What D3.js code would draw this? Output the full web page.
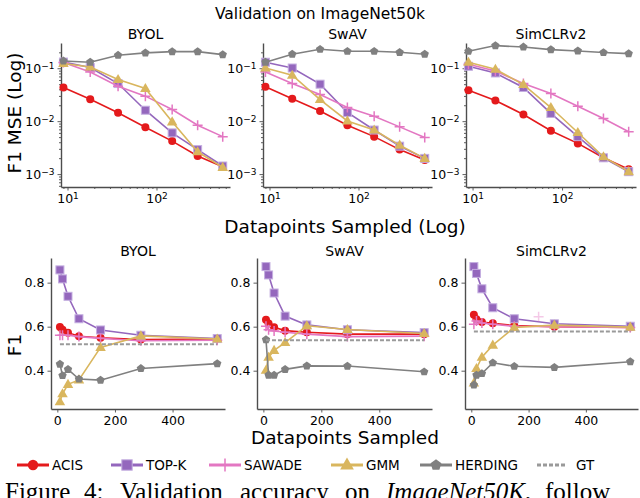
<!DOCTYPE html>
<html lang="en">
<head>
<meta charset="UTF-8">
<title>Validation on ImageNet50k</title>
<script src="https://d3js.org/d3.v7.min.js"></script>
<style>
  body { margin: 0; background: #fff; }
  svg text { font-family: "DejaVu Sans", sans-serif; fill: #000; }
</style>
</head>
<body>
<svg id="chart" width="640" height="498"></svg>
<script>
const models = ["BYOL", "SwAV", "SimCLRv2"];
const methods = ["ACIS", "TOP-K", "SAWADE", "GMM", "HERDING"];
const xSampled = [9, 18, 37, 75, 150, 290, 555];

// F1 MSE, rows: BYOL, SwAV, SimCLRv2
const mseACIS = [
  [0.0433, 0.026, 0.0144, 0.0077, 0.0042, 0.0022, 0.00137],
  [0.0445, 0.0264, 0.0155, 0.0084, 0.0051, 0.0029, 0.00184],
  [0.0385, 0.0246, 0.0134, 0.0066, 0.0038, 0.00203, 0.00123]
];
const mseTopK = [
  [0.131, 0.103, 0.0514, 0.0161, 0.006, 0.0029, 0.00142],
  [0.13, 0.101, 0.05, 0.0146, 0.0068, 0.00337, 0.00198],
  [0.109, 0.0815, 0.0433, 0.014, 0.0051, 0.00203, 0.00111]
];
const mseSawade = [
  [0.128, 0.085, 0.0457, 0.0297, 0.0166, 0.0084, 0.0051],
  [0.085, 0.0514, 0.0319, 0.0181, 0.0124, 0.0078, 0.0049],
  [0.119, 0.0889, 0.0514, 0.0333, 0.0192, 0.0112, 0.0063]
];
const mseGMM = [
  [0.123, 0.106, 0.0612, 0.0414, 0.0097, 0.00264, 0.00134],
  [0.101, 0.0738, 0.0256, 0.0101, 0.0068, 0.00352, 0.00198],
  [0.13, 0.0958, 0.0492, 0.0181, 0.0061, 0.00212, 0.00111]
];
const mseHerding = [
  [0.137, 0.13, 0.176, 0.195, 0.206, 0.206, 0.181],
  [0.13, 0.184, 0.228, 0.209, 0.209, 0.2, 0.184],
  [0.209, 0.268, 0.252, 0.225, 0.212, 0.198, 0.189]
];

// F1 estimates, rows: BYOL, SwAV, SimCLRv2
const f1ACIS = [
  [0.598, 0.586, 0.572, 0.556, 0.55, 0.542, 0.544],
  [0.632, 0.614, 0.597, 0.582, 0.575, 0.566, 0.566],
  [0.654, 0.634, 0.621, 0.615, 0.605, 0.6, 0.597]
];
const f1TopK = [
  [0.858, 0.817, 0.738, 0.636, 0.585, 0.561, 0.546],
  [0.873, 0.835, 0.753, 0.648, 0.608, 0.586, 0.573],
  [0.873, 0.842, 0.772, 0.686, 0.636, 0.613, 0.602]
];
const f1Sawade = [
  [0.561, 0.561, 0.561, 0.555, 0.547, 0.536, 0.538],
  [0.602, 0.586, 0.58, 0.575, 0.566, 0.555, 0.557],
  [0.611, 0.626, 0.617, 0.611, 0.602, 0.6, 0.596]
];
const f1GMM = [
  [0.259, 0.295, 0.338, 0.358, 0.506, 0.558, 0.544],
  [0.402, 0.461, 0.492, 0.528, 0.604, 0.587, 0.569],
  [0.344, 0.41, 0.461, 0.516, 0.596, 0.607, 0.598]
];
const f1Herding = [
  [0.43, 0.378, 0.406, 0.362, 0.357, 0.41, 0.432],
  [0.541, 0.38, 0.38, 0.406, 0.422, 0.421, 0.395],
  [0.335, 0.38, 0.387, 0.436, 0.42, 0.415, 0.441]
];
const f1GT = [0.52, 0.538, 0.578];
// stray SAWADE marker seen in the SimCLRv2 panel
const sawadeStray = { model: 2, x: 235, y: 0.645 };

const mseSeries = [mseACIS, mseTopK, mseSawade, mseGMM, mseHerding];
const f1Series = [f1ACIS, f1TopK, f1Sawade, f1GMM, f1Herding];

const colors = ["#e41a1c", "#9467bd", "#e377c2", "#d9b65e", "#808080"];
const gtColor = "#9a9a9a";
const axisColor = "#4d4d4d";

const svg = d3.select("#chart");

// marker drawing
function pentagon(r) {
  const pts = d3.range(5).map(i => {
    const a = -Math.PI / 2 + i * 2 * Math.PI / 5;
    return [r * Math.cos(a), r * Math.sin(a)];
  });
  return "M" + pts.map(p => p.join(",")).join("L") + "Z";
}

function drawMarker(g, k, x, y, scale) {
  const s = scale || 1;
  const c = colors[k];
  if (k === 0) {
    g.append("circle").attr("cx", x).attr("cy", y).attr("r", 4 * s).attr("fill", c);
  } else if (k === 1) {
    g.append("rect").attr("x", x - 4 * s).attr("y", y - 4 * s)
      .attr("width", 8 * s).attr("height", 8 * s)
      .attr("fill", c).attr("stroke", "#c4aee0").attr("stroke-width", 1);
  } else if (k === 2) {
    g.append("path").attr("d", `M${x - 5 * s},${y}H${x + 5 * s}M${x},${y - 5 * s}V${y + 5 * s}`)
      .attr("stroke", c).attr("stroke-width", 1.5).attr("fill", "none");
  } else if (k === 3) {
    g.append("path").attr("transform", `translate(${x},${y + 0.5})`)
      .attr("d", d3.symbol(d3.symbolTriangle, 48 * s * s)()).attr("fill", c);
  } else {
    g.append("path").attr("transform", `translate(${x},${y})`)
      .attr("d", pentagon(4.4 * s)).attr("fill", c);
  }
}

// panel boxes [left, right]
const topBoxes = [[61, 230], [263, 432], [466, 636]];
const botBoxes = [[51, 225], [257, 432], [465, 638]];
const topY = [43, 187];
const botY = [258, 409];

function superLabel(sel, d) {
  const e = Math.round(Math.log10(d));
  sel.text("10").append("tspan").attr("dy", "-0.45em").attr("font-size", "0.72em")
    .text(e < 0 ? "\u2212" + (-e) : String(e));
}

function styleAxis(g) {
  g.select(".domain").attr("stroke", axisColor).attr("stroke-width", 1.4);
  g.selectAll(".tick line").attr("stroke", axisColor).attr("stroke-width", 0.9);
  g.selectAll(".tick text").attr("font-size", 12.5).attr("fill", "#000")
    .attr("font-family", "DejaVu Sans, sans-serif");
}

function minors(lo, hi) {
  const out = [];
  for (let e = -4; e <= 3; e++) {
    for (let m = 2; m <= 9; m++) {
      const v = m * Math.pow(10, e);
      if (v >= lo && v <= hi) out.push(v);
    }
  }
  return out;
}

// ---- top row: F1 MSE on log scales ----
const xLogDomain = [8.45, 670];
const yLogDomain = [5.7e-4, 0.3];

models.forEach((name, mi) => {
  const [l, r] = topBoxes[mi];
  const x = d3.scaleLog().domain(xLogDomain).range([l, r]);
  const y = d3.scaleLog().domain(yLogDomain).range([topY[1], topY[0]]);
  const g = svg.append("g");

  // minor ticks
  g.append("g").attr("transform", `translate(0,${topY[1]})`)
    .call(d3.axisBottom(x).tickValues(minors(...xLogDomain)).tickSize(2).tickFormat(""))
    .call(ax => { styleAxis(ax); ax.select(".domain").remove(); });
  g.append("g").attr("transform", `translate(${l},0)`)
    .call(d3.axisLeft(y).tickValues(minors(...yLogDomain)).tickSize(2).tickFormat(""))
    .call(ax => { styleAxis(ax); ax.select(".domain").remove(); });

  // major ticks
  g.append("g").attr("transform", `translate(0,${topY[1]})`)
    .call(d3.axisBottom(x).tickValues([10, 100]).tickSize(3.5).tickSizeOuter(0).tickPadding(4))
    .call(styleAxis)
    .call(ax => ax.selectAll(".tick text").each(function(d) { superLabel(d3.select(this), d); }));
  g.append("g").attr("transform", `translate(${l},0)`)
    .call(d3.axisLeft(y).tickValues([1e-3, 1e-2, 1e-1]).tickSize(3.5).tickSizeOuter(0).tickPadding(3))
    .call(styleAxis)
    .call(ax => ax.selectAll(".tick text").each(function(d) { superLabel(d3.select(this), d); }));

  const line = d3.line().x(d => x(d[0])).y(d => y(d[1]));
  mseSeries.forEach((series, k) => {
    const pts = xSampled.map((xv, i) => [xv, series[mi][i]]);
    g.append("path").datum(pts).attr("d", line)
      .attr("fill", "none").attr("stroke", colors[k]).attr("stroke-width", 1.6);
    const mg = g.append("g");
    pts.forEach(p => drawMarker(mg, k, x(p[0]), y(p[1])));
  });

  svg.append("text").attr("x", (l + r) / 2).attr("y", 39)
    .attr("text-anchor", "middle").attr("font-size", 14).text(name);
});

// ---- bottom row: F1 on linear scales ----
const xLinDomain = [-22, 582];
const yLinDomain = [0.226, 0.912];

models.forEach((name, mi) => {
  const [l, r] = botBoxes[mi];
  const x = d3.scaleLinear().domain(xLinDomain).range([l, r]);
  const y = d3.scaleLinear().domain(yLinDomain).range([botY[1], botY[0]]);
  const g = svg.append("g");

  g.append("g").attr("transform", `translate(0,${botY[1]})`)
    .call(d3.axisBottom(x).tickValues([0, 200, 400]).tickSize(3.5).tickSizeOuter(0).tickPadding(4))
    .call(styleAxis);
  g.append("g").attr("transform", `translate(${l},0)`)
    .call(d3.axisLeft(y).tickValues([0.4, 0.6, 0.8]).tickFormat(d3.format(".1f"))
      .tickSize(3.5).tickSizeOuter(0).tickPadding(3))
    .call(styleAxis);

  const line = d3.line().x(d => x(d[0])).y(d => y(d[1]));
  f1Series.forEach((series, k) => {
    const pts = xSampled.map((xv, i) => [xv, series[mi][i]]);
    g.append("path").datum(pts).attr("d", line)
      .attr("fill", "none").attr("stroke", colors[k]).attr("stroke-width", 1.6);
    const mg = g.append("g");
    pts.forEach(p => drawMarker(mg, k, x(p[0]), y(p[1])));
  });

  // ground truth
  g.append("line")
    .attr("x1", x(xSampled[0])).attr("x2", x(xSampled[xSampled.length - 1]))
    .attr("y1", y(f1GT[mi])).attr("y2", y(f1GT[mi]))
    .attr("stroke", gtColor).attr("stroke-width", 2).attr("stroke-dasharray", "4,2");

  if (sawadeStray.model === mi) {
    const sg = g.append("g").attr("opacity", 0.4);
    drawMarker(sg, 2, x(sawadeStray.x), y(sawadeStray.y));
  }

  svg.append("text").attr("x", (l + r) / 2).attr("y", 256)
    .attr("text-anchor", "middle").attr("font-size", 14).text(name);
});

// titles and axis labels
svg.append("text").attr("x", 320).attr("y", 19).attr("text-anchor", "middle")
  .attr("font-size", 15.5).text("Validation on ImageNet50k");
svg.append("text").attr("x", 345).attr("y", 233).attr("text-anchor", "middle")
  .attr("font-size", 18.5).text("Datapoints Sampled (Log)");
svg.append("text").attr("x", 345).attr("y", 444).attr("text-anchor", "middle")
  .attr("font-size", 18.5).text("Datapoints Sampled");
svg.append("text").attr("transform", "translate(21,113) rotate(-90)").attr("text-anchor", "middle")
  .attr("font-size", 18.5).text("F1 MSE (Log)");
svg.append("text").attr("transform", "translate(21,345) rotate(-90)").attr("text-anchor", "middle")
  .attr("font-size", 18.5).text("F1");

// legend
const legendX = [17, 111, 209, 331, 420, 537];
const legendY = 465;
const legendItems = methods.concat(["GT"]);
legendItems.forEach((label, k) => {
  const lx = legendX[k];
  const lg = svg.append("g");
  if (k < 5) {
    lg.append("line").attr("x1", lx).attr("x2", lx + 32).attr("y1", legendY).attr("y2", legendY)
      .attr("stroke", colors[k]).attr("stroke-width", 3);
    drawMarker(lg, k, lx + 16, legendY, 1.3);
  } else {
    lg.append("line").attr("x1", lx).attr("x2", lx + 28).attr("y1", legendY).attr("y2", legendY)
      .attr("stroke", gtColor).attr("stroke-width", 3).attr("stroke-dasharray", "4,2");
  }
  lg.append("text").attr("x", lx + (k < 5 ? 35 : 39)).attr("y", legendY + 5)
    .attr("font-size", 13.5).text(label);
});

// caption line, cut by the page edge as in the source
const capWords = [
  { t: "Figure", x: 5 }, { t: "4:", x: 84 }, { t: "Validation", x: 120 },
  { t: "accuracy", x: 240 }, { t: "on", x: 345 }, { t: "ImageNet50K", x: 386, it: true },
  { t: ",", x: null }, { t: "follow", x: 545 }
];
const cap = svg.append("text").attr("y", 500).attr("font-size", 25)
  .style("font-family", "'Liberation Serif', 'DejaVu Serif', serif");
capWords.forEach(w => {
  cap.append("tspan").attr("x", w.x).attr("font-style", w.it ? "italic" : null).text(w.t);
});
</script>
</body>
</html>
